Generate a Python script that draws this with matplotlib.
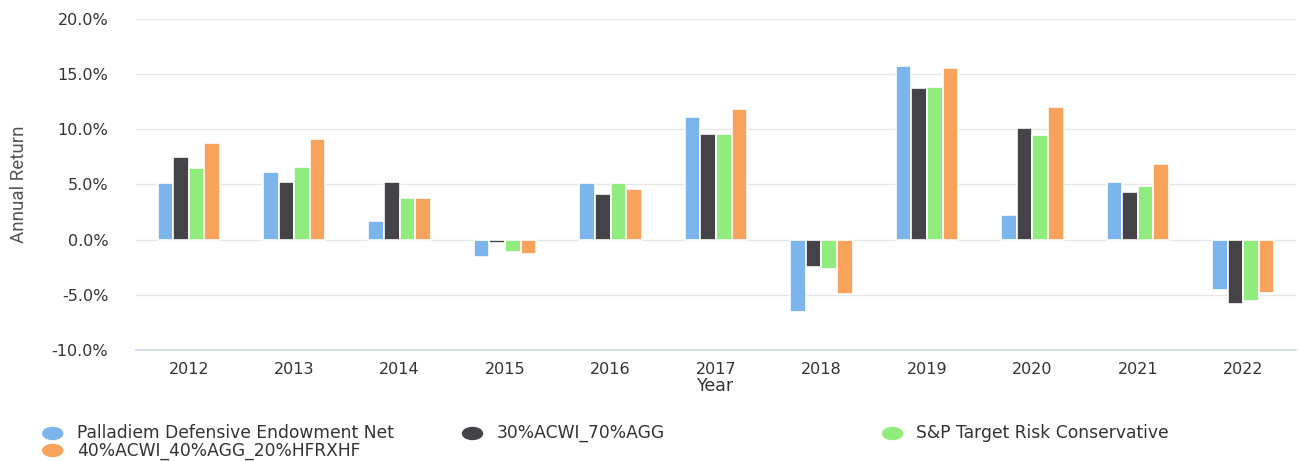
import matplotlib
matplotlib.use("Agg")
import matplotlib.pyplot as plt
from matplotlib.patches import Ellipse
import numpy as np

plt.rcParams['font.family'] = ['DejaVu Sans']

years = ["2012", "2013", "2014", "2015", "2016", "2017", "2018", "2019", "2020", "2021", "2022"]
series_names = ["Palladiem Defensive Endowment Net", "30%ACWI_70%AGG",
                "S&P Target Risk Conservative", "40%ACWI_40%AGG_20%HFRXHF"]
palladiem = [5.1, 6.1, 1.65, -1.57, 5.1, 11.1, -6.6, 15.7, 2.2, 5.2, -4.55]
acwi30 = [7.5, 5.2, 5.2, -0.3, 4.1, 9.6, -2.5, 13.75, 10.1, 4.3, -5.8]
sp_conservative = [6.5, 6.6, 3.8, -1.09, 5.1, 9.6, -2.7, 13.85, 9.5, 4.9, -5.6]
acwi40 = [8.8, 9.1, 3.8, -1.33, 4.6, 11.8, -4.9, 15.6, 12.0, 6.9, -4.8]
colors = ["#7cb5ec", "#434348", "#90ed7d", "#f7a35c"]
y_ticks = [-10, -5, 0, 5, 10, 15, 20]

data = [palladiem, acwi30, sp_conservative, acwi40]

W, H = 1300, 461
fig = plt.figure(figsize=(W / 100, H / 100), dpi=100)
ax = fig.add_axes([136 / W, 1 - 350 / H, 1160 / W, 331 / H])

x = np.arange(len(years))
step = 0.148
for i, (vals, c) in enumerate(zip(data, colors)):
    ax.bar(x + (i - 1.5) * step, vals, width=step, color=c, edgecolor="white",
           linewidth=1.2, zorder=3)

ax.set_xlim(-0.5, len(years) - 0.5)
ax.set_ylim(-10, 20)
ax.set_yticks(y_ticks)
ax.set_yticklabels([f"{v:.1f}%" for v in y_ticks])
ax.set_xticks(x)
ax.set_xticklabels(years)
ax.tick_params(axis='both', length=0, labelsize=11.5, colors="#333333")
ax.tick_params(axis='y', pad=20)
ax.tick_params(axis='x', pad=9)
ax.grid(axis='y', color="#e6e6e6", linewidth=1, zorder=0)
for s in ["top", "right", "left"]:
    ax.spines[s].set_visible(False)
ax.spines["bottom"].set_color("#ccd6eb")
ax.spines["bottom"].set_linewidth(1.2)
ax.spines["bottom"].set_zorder(4)

fig.text(19 / W, 1 - 184 / H, "Annual Return", rotation=90, ha="center",
         va="center", fontsize=13.5, color="#555555", family="Roboto")
fig.text(716 / W, 1 - 386 / H, "Year", ha="center", va="center",
         fontsize=12.5, color="#333333")

# legend
leg_pos = [(52.7, 433.5), (472.5, 433.5), (892.5, 433.5), (52.7, 450.5)]
for (px, py), name, c in zip(leg_pos, series_names, colors):
    fig.add_artist(Ellipse((px / W, 1 - py / H), 20 / W, 12 / H, color=c,
                           transform=fig.transFigure))
    fig.text((px + 24) / W, 1 - py / H, name, ha="left", va="center",
             fontsize=12.3, color="#333333")

fig.savefig("out.png", dpi=100, facecolor="white")
